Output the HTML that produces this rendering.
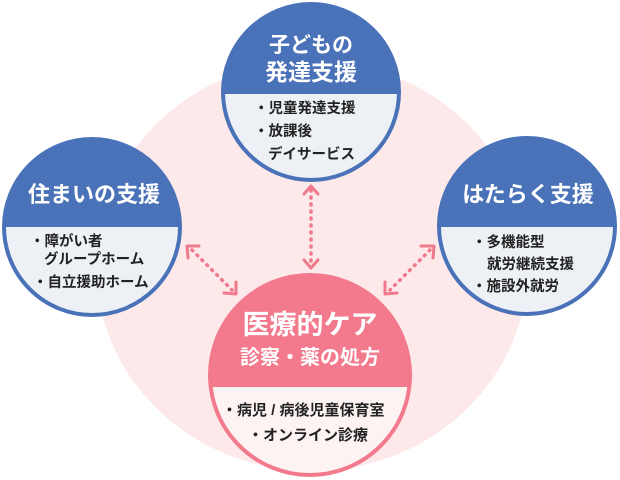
<!DOCTYPE html>
<html><head><meta charset="utf-8"><style>
html,body{margin:0;padding:0;background:#fff;}
svg{display:block;font-family:"Liberation Sans","Noto Sans CJK JP",sans-serif;}
.h{fill:#fff;font-weight:bold;text-anchor:middle;}
.b{fill:#222;font-weight:bold;font-size:14.5px;}
</style></head><body>
<svg width="620" height="480" viewBox="0 0 620 480" xmlns="http://www.w3.org/2000/svg">
<defs>
<clipPath id="ct"><circle cx="311" cy="92" r="88"/></clipPath>
<clipPath id="cl"><circle cx="92" cy="227" r="88"/></clipPath>
<clipPath id="cr"><circle cx="527" cy="226" r="88"/></clipPath>
<clipPath id="cb"><circle cx="310" cy="375" r="100"/></clipPath>
</defs>
<ellipse cx="312" cy="266" rx="216" ry="205" fill="#fde8ea"/>
<g stroke="#f07a8c" stroke-width="3.5" stroke-dasharray="1 6" stroke-linecap="round" fill="none">
<line x1="311" y1="190" x2="311" y2="262"/>
<line x1="192" y1="250" x2="232" y2="290"/>
<line x1="430" y1="250" x2="390" y2="290"/>
</g>
<g stroke="#f07a8c" stroke-width="3" fill="none" stroke-linecap="round" stroke-linejoin="round">
<polyline points="304,194 311,186 318,194"/>
<polyline points="304,260 311,268 318,260"/>
<polyline points="188,258 187,246 199,246"/>
<polyline points="224,293 236,294 236,282"/>
<polyline points="421,246 434,246 433,258"/>
<polyline points="385,282 385,294 397,293"/>
</g>
<g clip-path="url(#ct)"><rect x="200" y="0" width="230" height="94" fill="#4a72b8"/><rect x="200" y="94" width="230" height="100" fill="#edf1f6"/></g>
<circle cx="311" cy="92" r="88" fill="none" stroke="#4a72b8" stroke-width="4"/>
<text class="h" x="311" y="52" font-size="21">子どもの</text>
<text class="h" x="311" y="80" font-size="23">発達支援</text>
<text class="b" x="254" y="113">・児童発達支援</text>
<text class="b" x="254" y="136">・放課後</text>
<text class="b" x="268" y="159">デイサービス</text>
<g clip-path="url(#cl)"><rect x="0" y="130" width="190" height="97" fill="#4a72b8"/><rect x="0" y="227" width="190" height="100" fill="#edf1f6"/></g>
<circle cx="92" cy="227" r="88" fill="none" stroke="#4a72b8" stroke-width="4"/>
<text class="h" x="94" y="202" font-size="22">住まいの支援</text>
<text class="b" x="30" y="246">・障がい者</text>
<text class="b" x="44" y="264">グループホーム</text>
<text class="b" x="33" y="287">・自立援助ホーム</text>
<g clip-path="url(#cr)"><rect x="430" y="130" width="195" height="97" fill="#4a72b8"/><rect x="430" y="227" width="195" height="100" fill="#edf1f6"/></g>
<circle cx="527" cy="226" r="88" fill="none" stroke="#4a72b8" stroke-width="4"/>
<text class="h" x="528" y="202" font-size="22">はたらく支援</text>
<text class="b" x="472" y="247">・多機能型</text>
<text class="b" x="487" y="269">就労継続支援</text>
<text class="b" x="472" y="291">・施設外就労</text>
<g clip-path="url(#cb)"><rect x="200" y="270" width="220" height="117" fill="#f27a8c"/><rect x="200" y="387" width="220" height="100" fill="#fdf3f3"/></g>
<circle cx="310" cy="375" r="100" fill="none" stroke="#f27a8c" stroke-width="4"/>
<text class="h" x="310" y="334" font-size="27">医療的ケア</text>
<text class="h" x="310" y="364" font-size="20">診察・薬の処方</text>
<text class="b" x="222" y="415" style="font-size:15px">・病児 / 病後児童保育室</text>
<text class="b" x="248" y="440" style="font-size:15px">・オンライン診療</text>
</svg>
</body></html>
